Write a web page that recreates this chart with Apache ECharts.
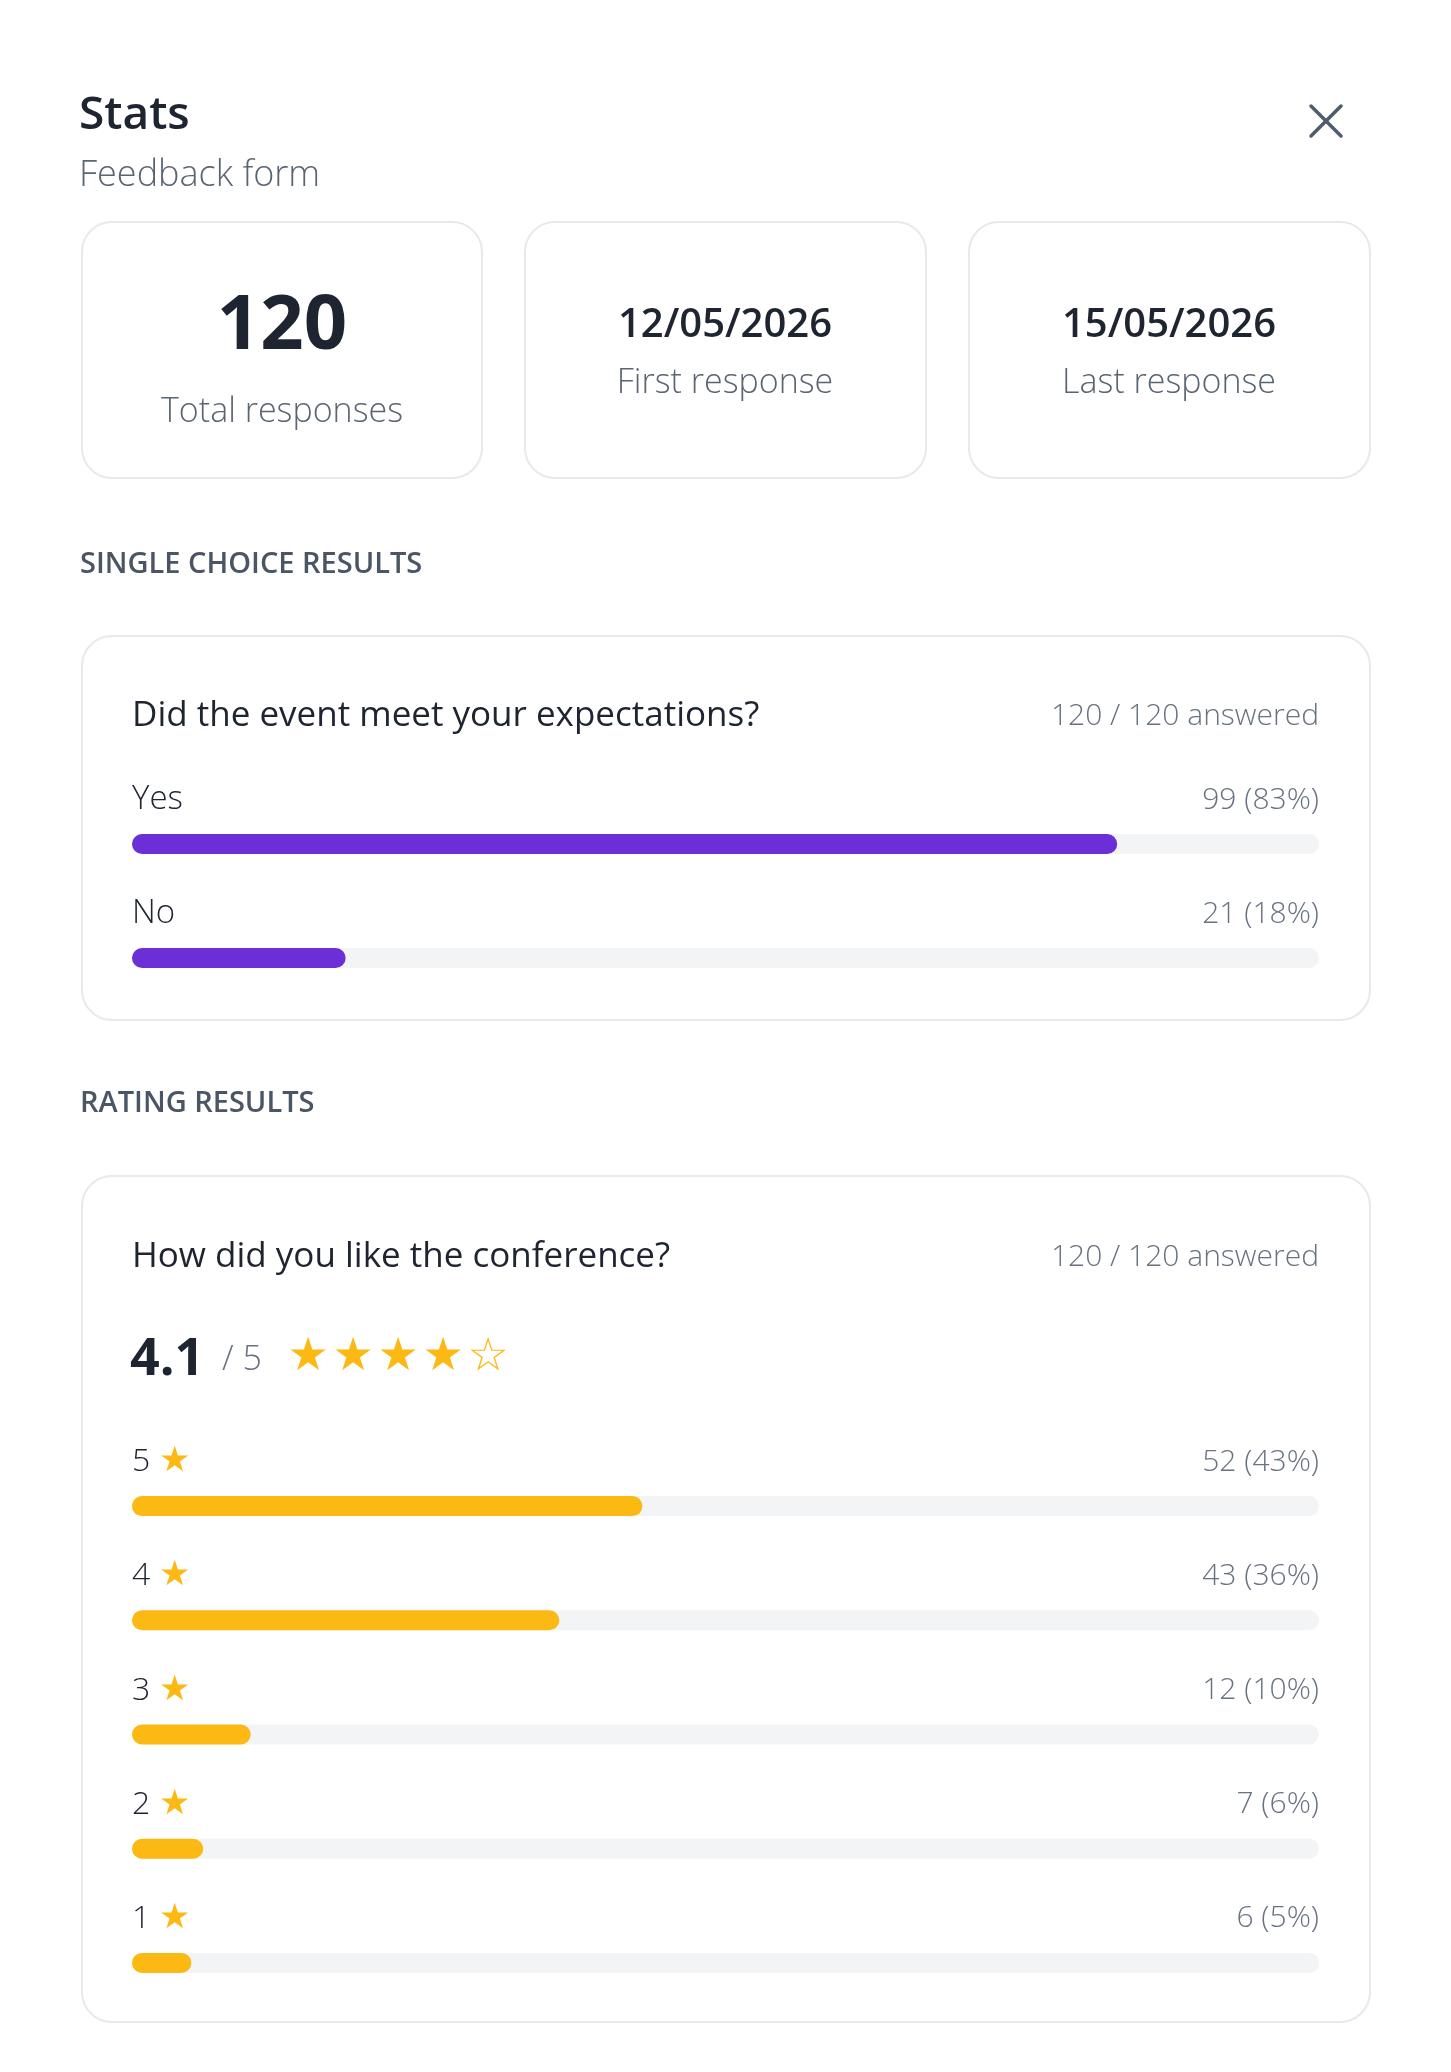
<!DOCTYPE html>
<html><head><meta charset="utf-8">
<script src="https://cdn.jsdelivr.net/npm/echarts@6/dist/echarts.min.js"></script>
<style>html,body{margin:0;padding:0;background:#fff}#c{width:1451px;height:2072px}</style>
</head><body><div id="c"></div>
<script>
// ---- data ----
const formTitle = 'Stats';
const formName = 'Feedback form';
const totalResponses = 120;
const firstResponse = '12/05/2026';
const lastResponse = '15/05/2026';
const choiceQuestion = 'Did the event meet your expectations?';
const choiceCategories = ['Yes', 'No'];
const choiceValues = [99, 21];
const choiceAnswered = 120;
const ratingQuestion = 'How did you like the conference?';
const ratingCategories = ['5', '4', '3', '2', '1'];
const ratingValues = [52, 43, 12, 7, 6];
const ratingAnswered = 120;

// ---- styles ----
const FONT = '"Open Sans", "Noto Sans", sans-serif';
const DARK = '#1e2530';
const GRAY = '#5a6573';
const LIGHT = '#687280';
const PURPLE = '#6b2ed7';
const AMBER = '#fdb913';
const TRACK = '#f3f4f6';
const BORDER = '#e7e9ec';

const avg = ratingValues.reduce((s, v, i) => s + v * Number(ratingCategories[i]), 0) /
            ratingValues.reduce((s, v) => s + v, 0);
const avgText = avg.toFixed(1);
const filledStars = Math.round(avg);

function t(text, x, y, size, weight, color, align, family) {
  return { type: 'text', silent: true, style: { text, x, y, fill: color, align: align || 'left', verticalAlign: 'middle',
    font: (weight || 'normal') + ' ' + size + 'px ' + (family || FONT) } };
}
function card(x, y, w, h) {
  return { type: 'rect', silent: true, shape: { x, y, width: w, height: h, r: 30 },
    style: { fill: '#fff', stroke: BORDER, lineWidth: 2 } };
}
const pct = v => Math.round(v * 100 / totalResponses);

const graphics = [
  card(82, 222, 400, 256), card(525, 222, 401, 256), card(969, 222, 401, 256),
  card(82, 636, 1288, 384), card(82, 1176, 1288, 846),
  t(formTitle, 79, 116, 46, '600', DARK),
  t(formName, 79, 176, 36, '300', GRAY),
  { type: 'line', silent: true, shape: { x1: 1311, y1: 106, x2: 1341, y2: 136 }, style: { stroke: '#4e5c6d', lineWidth: 3.5, lineCap: 'round' } },
  { type: 'line', silent: true, shape: { x1: 1341, y1: 106, x2: 1311, y2: 136 }, style: { stroke: '#4e5c6d', lineWidth: 3.5, lineCap: 'round' } },
  t(String(totalResponses), 282, 327, 76, '700', DARK, 'center'),
  t('Total responses', 282, 412, 34, '300', GRAY, 'center'),
  t(firstResponse, 725, 326, 40, '600', DARK, 'center'),
  t('First response', 725, 383, 34, '300', GRAY, 'center'),
  t(lastResponse, 1169, 326, 40, '600', DARK, 'center'),
  t('Last response', 1169, 383, 34, '300', GRAY, 'center'),
  t('SINGLE CHOICE RESULTS', 80, 565, 29, '600', '#4a5565'),
  t(choiceQuestion, 132, 716, 35, '500', DARK),
  t(choiceAnswered + ' / ' + totalResponses + ' answered', 1319, 716, 30, '300', LIGHT, 'right'),
  t('RATING RESULTS', 80, 1104, 29, '600', '#4a5565'),
  t(ratingQuestion, 132, 1257, 35, '500', DARK),
  t(ratingAnswered + ' / ' + totalResponses + ' answered', 1319, 1257, 30, '300', LIGHT, 'right'),
  t(avgText, 130, 1360, 52, '700', DARK),
  t('/ 5', 222, 1360, 34, '300', LIGHT)
];
for (let i = 0; i < 5; i++) {
  graphics.push(t(i < filledStars ? '★' : '☆', 308 + i * 45, 1358, 46, 'normal', AMBER, 'center', '"DejaVu Sans"'));
}

function barPair(idx, cats, vals, color, nameFmt, nameRich) {
  return [
    { type: 'bar', xAxisIndex: idx, yAxisIndex: idx, silent: true, barWidth: 20,
      data: cats.map(() => 100),
      itemStyle: { color: TRACK, borderRadius: 10 },
      label: { show: true, position: ['100%', -34], align: 'right', verticalAlign: 'middle',
        fontFamily: FONT, fontSize: 30, fontWeight: 300, color: LIGHT,
        formatter: p => vals[p.dataIndex] + ' (' + pct(vals[p.dataIndex]) + '%)' } },
    { type: 'bar', xAxisIndex: idx, yAxisIndex: idx, silent: true, barWidth: 20, barGap: '-100%',
      data: vals.map(pct),
      itemStyle: { color, borderRadius: 10 },
      label: { show: true, position: [0, -34], align: 'left', verticalAlign: 'middle',
        fontFamily: FONT, fontSize: 33, fontWeight: 300, color: DARK, formatter: nameFmt, rich: nameRich } }
  ];
}

const chart = echarts.init(document.getElementById('c'), null, { renderer: 'canvas' });
chart.setOption({
  backgroundColor: '#fff',
  animation: false,
  graphic: graphics,
  grid: [
    { left: 132, right: 132, top: 787, height: 228 },
    { left: 132, right: 132, top: 1449, height: 571 }
  ],
  xAxis: [0, 1].map(i => ({ type: 'value', gridIndex: i, min: 0, max: 100, show: false })),
  yAxis: [
    { type: 'category', gridIndex: 0, data: choiceCategories, inverse: true, show: false },
    { type: 'category', gridIndex: 1, data: ratingCategories, inverse: true, show: false }
  ],
  series: [
    ...barPair(0, choiceCategories, choiceValues, PURPLE, p => choiceCategories[p.dataIndex]),
    ...barPair(1, ratingCategories, ratingValues, AMBER, p => '{n|' + ratingCategories[p.dataIndex] + '} {s|★}',
      { n: { fontFamily: FONT, fontSize: 32, fontWeight: 300, color: DARK },
        s: { fontFamily: '"DejaVu Sans"', fontSize: 35, color: AMBER } })
  ]
});
</script>
</body></html>
